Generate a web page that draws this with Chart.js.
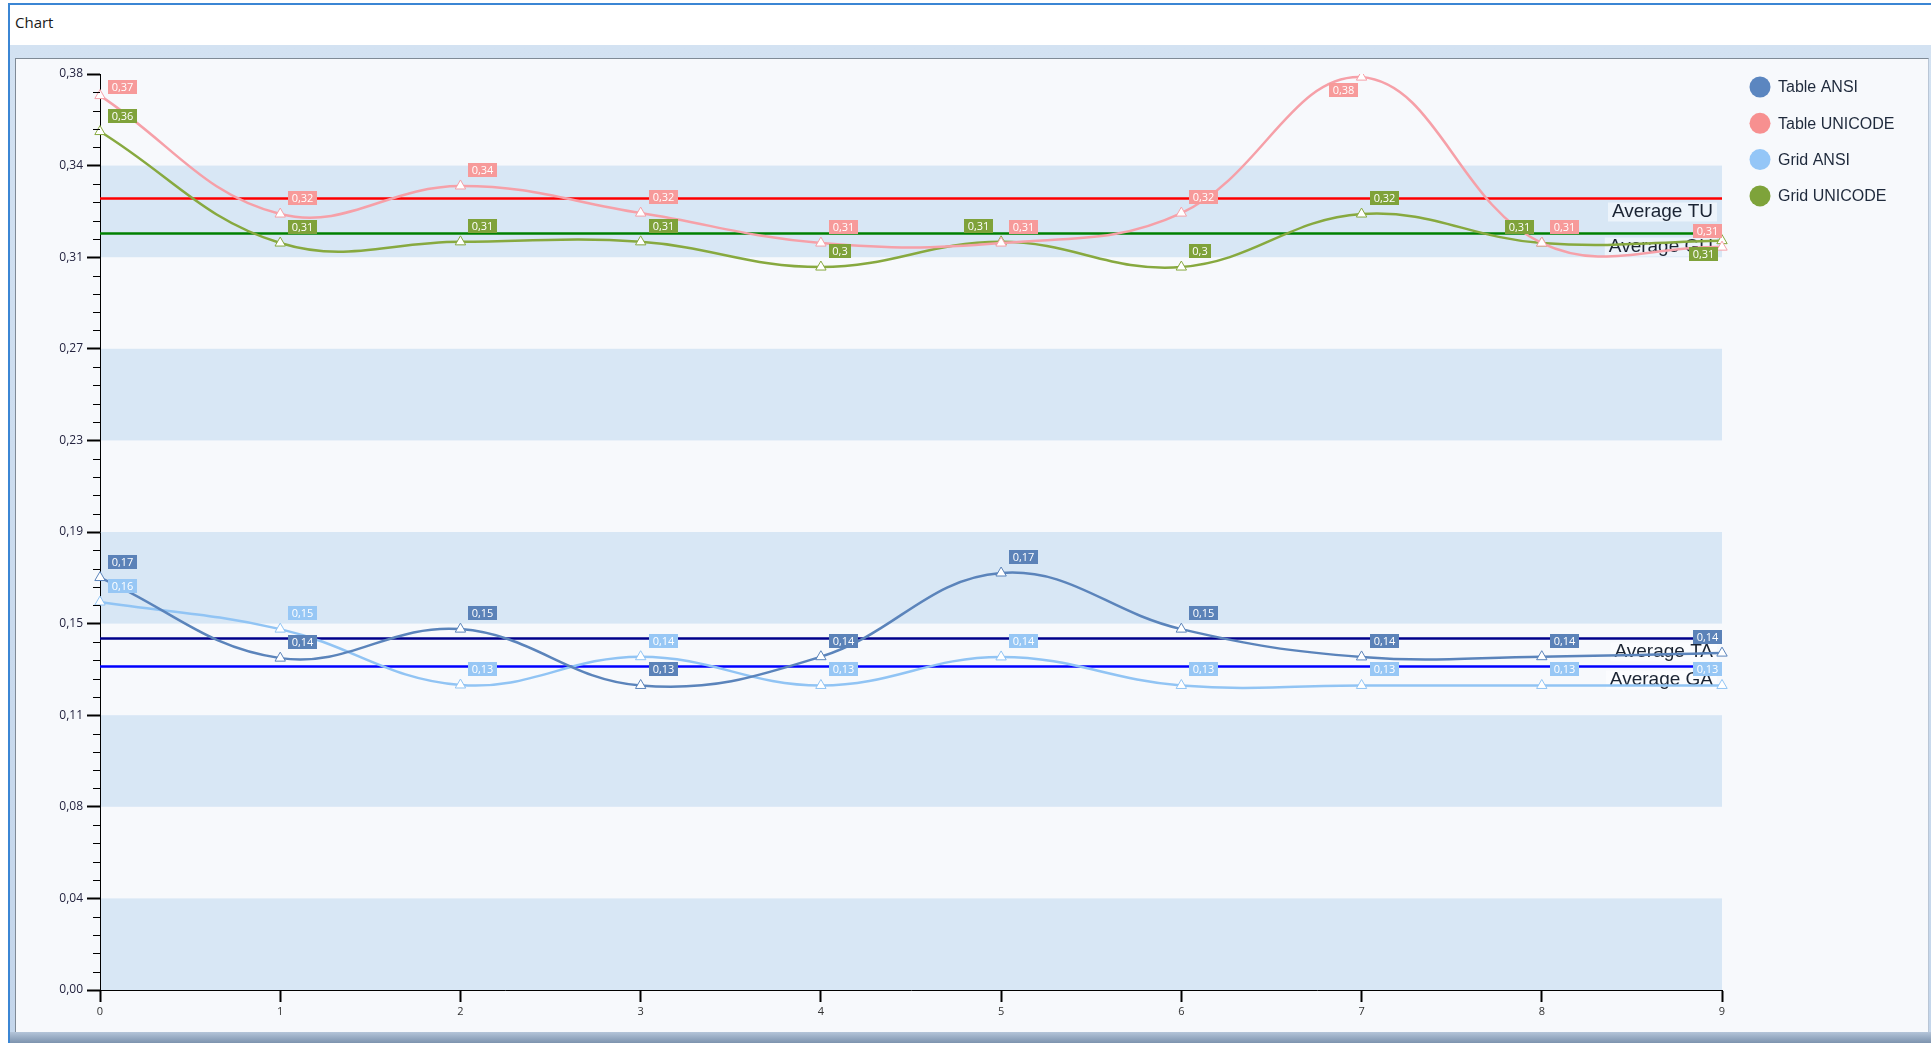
<!DOCTYPE html>
<html>
<head>
<meta charset="utf-8">
<title>Chart</title>
<script src="https://cdn.jsdelivr.net/npm/chart.js@4.4.1/dist/chart.umd.min.js"></script>
<style>
  html, body { margin: 0; padding: 0; background: #ffffff; width: 1931px; height: 1043px; overflow: hidden; }
  #frameTop { position: absolute; left: 8px; top: 3px; width: 1923px; height: 2px; background: #3b86d4; }
  #frameLeft { position: absolute; left: 8px; top: 3px; width: 2px; height: 1040px; background: #3b86d4; }
  #title { position: absolute; left: 15px; top: 12px; font: 15px "Open Sans", "Noto Sans", sans-serif; color: #1a1a1a; }
  #strip { position: absolute; left: 10px; top: 45px; width: 1921px; height: 998px; background: linear-gradient(#d3e2f2, #c4d6eb); }
  #bottomStrip { position: absolute; left: 10px; top: 1032px; width: 1921px; height: 11px; background: linear-gradient(#b4c5d9, #7d93ae); }
  #panel { position: absolute; left: 15px; top: 58px; width: 1914px; height: 974px; background: #f7f9fc; border-top: 1px solid #7f8a96; border-left: 1px solid #7f8a96; border-right: 1px solid #b9c6d6; box-sizing: border-box; }
  #c { position: absolute; left: 16px; top: 59px; }
</style>
</head>
<body>
<div id="strip"></div>
<div id="bottomStrip"></div>
<div id="frameTop"></div>
<div id="frameLeft"></div>
<div id="title">Chart</div>
<div id="panel"></div>
<canvas id="c" width="1897" height="973"></canvas>
<script>
// Run index on the x axis
const xLabels = ['0', '1', '2', '3', '4', '5', '6', '7', '8', '9'];

// Measured timings per run
const tableAnsi    = [0.172, 0.1384, 0.1505, 0.127, 0.139, 0.1739, 0.1505, 0.1389, 0.139, 0.1405];
const tableUnicode = [0.373, 0.3236, 0.3353, 0.324, 0.3115, 0.3115, 0.324, 0.3807, 0.3115, 0.3098];
const gridAnsi     = [0.1618, 0.1505, 0.1272, 0.139, 0.127, 0.1389, 0.127, 0.127, 0.127, 0.127];
const gridUnicode  = [0.358, 0.3115, 0.312, 0.312, 0.3015, 0.312, 0.3015, 0.3236, 0.3115, 0.3125];

const seriesNames = ['Table ANSI', 'Table UNICODE', 'Grid ANSI', 'Grid UNICODE'];
const averageNames = ['Average TA', 'Average TU', 'Average GA', 'Average GU'];

// Y axis: ten equal steps up to the top value
const yMax = 0.382;
const yTickLabels = ['0,00', '0,04', '0,08', '0,11', '0,15', '0,19', '0,23', '0,27', '0,31', '0,34', '0,38'];

const lineColors   = ['#5b84bb', '#f6a0a8', '#91c4f4', '#87a93f'];
const boxColors    = ['#5b82b8', '#f79a9a', '#97c7f5', '#7fa23a'];
const legendColors = ['#5b86c0', '#f79090', '#94c6f7', '#7ea33a'];
const averageColors = ['#00008b', '#ff0000', '#0000ff', '#008000'];
const bandColor = '#d8e7f5';

const seriesData = [tableAnsi, tableUnicode, gridAnsi, gridUnicode];

function fmt(v) {
  return String(Number(v.toFixed(2))).replace('.', ',');
}

// Alternating shaded bands between major y ticks
const bandsPlugin = {
  id: 'bands',
  beforeDraw(chart) {
    const { ctx, chartArea: a, scales: { y } } = chart;
    ctx.save();
    ctx.fillStyle = bandColor;
    const n = yTickLabels.length - 1;
    for (let i = 0; i < n; i += 2) {
      const top = y.getPixelForValue(yMax * (i + 1) / n);
      const bot = y.getPixelForValue(yMax * i / n);
      ctx.fillRect(a.left, top, a.right - a.left, bot - top);
    }
    ctx.restore();
  }
};

// Horizontal mean line for every series, with its caption
const averagePlugin = {
  id: 'averages',
  beforeDatasetsDraw(chart) {
    const { ctx, chartArea: a, scales: { y } } = chart;
    ctx.save();
    chart.data.datasets.forEach((ds, i) => {
      const mean = ds.data.reduce((s, v) => s + v, 0) / ds.data.length;
      const py = Math.round(y.getPixelForValue(mean)) + 0.5;
      ctx.font = '19px "Liberation Sans", Arial, sans-serif';
      const text = averageNames[i];
      const tw = ctx.measureText(text).width;
      const tx = a.right - 9;
      const ty = py + 13;
      ctx.fillStyle = 'rgba(255,255,255,0.55)';
      ctx.fillRect(tx - tw - 4, ty - 9, tw + 8, 19);
      ctx.fillStyle = '#1b2433';
      ctx.textAlign = 'right';
      ctx.textBaseline = 'middle';
      ctx.fillText(text, tx, ty);
      ctx.strokeStyle = averageColors[i];
      ctx.lineWidth = 2.5;
      ctx.beginPath();
      ctx.moveTo(a.left, py);
      ctx.lineTo(a.right, py);
      ctx.stroke();
    });
    ctx.restore();
  }
};

// Value tags next to each point, nudged aside when they would overlap
const valueTagPlugin = {
  id: 'valueTags',
  afterDatasetsDraw(chart) {
    const { ctx, chartArea: a } = chart;
    const placed = [];
    const h = 14;
    const topLimit = a.top + 6;
    ctx.save();
    ctx.font = '11px "Open Sans", "Noto Sans", sans-serif';
    ctx.textBaseline = 'middle';
    ctx.textAlign = 'center';
    const overlaps = (r) => placed.some(p => r.l < p.l + p.w && r.l + r.w > p.l && r.t < p.t + p.h && r.t + r.h > p.t);
    chart.data.datasets.forEach((ds, di) => {
      const meta = chart.getDatasetMeta(di);
      meta.data.forEach((pt, i) => {
        const text = fmt(ds.data[i]);
        const w = Math.round(ctx.measureText(text).width) + 7;
        const x = pt.x, y = pt.y;
        const clampX = (l) => Math.min(Math.max(l, a.left + 8), a.right - w);
        // above placements slide down to stay inside the plot, but not too far
        const above = (l) => {
          const t = y - 9 - h;
          return { l: l, t: t < topLimit ? topLimit : t, shift: t < topLimit ? topLimit - t : 0 };
        };
        const candidates = [
          above(clampX(x + 8)),
          above(x - 8 - w),
          { l: Math.min(x - 4, a.right - 2) - w, t: y + 6, shift: 0 },
          { l: clampX(x + 8), t: y + 6, shift: 0 }
        ].map(c => ({ l: c.l, t: c.t, w: w, h: h, shift: c.shift }));
        const box = candidates.find(c => c.shift <= 12 && c.l >= a.left && !overlaps(c)) || candidates[0];
        placed.push(box);
        ctx.fillStyle = boxColors[di];
        ctx.fillRect(Math.round(box.l), Math.round(box.t), w, h);
        ctx.fillStyle = '#ffffff';
        ctx.fillText(text, Math.round(box.l) + w / 2, Math.round(box.t) + h / 2 + 0.5);
      });
    });
    ctx.restore();
  }
};

// Minor y ticks and the legend on the right
const extrasPlugin = {
  id: 'extras',
  afterDraw(chart) {
    const { ctx, chartArea: a, scales: { y } } = chart;
    ctx.save();
    ctx.strokeStyle = '#000000';
    ctx.lineWidth = 1;
    const n = (yTickLabels.length - 1) * 5;
    for (let k = 0; k <= n; k++) {
      if (k % 5 === 0) continue;
      const py = Math.round(y.getPixelForValue(yMax * k / n)) + 0.5;
      ctx.beginPath();
      ctx.moveTo(a.left - 7, py);
      ctx.lineTo(a.left, py);
      ctx.stroke();
    }
    ctx.font = '16px "Liberation Sans", Arial, sans-serif';
    ctx.textBaseline = 'middle';
    ctx.textAlign = 'left';
    seriesNames.forEach((name, i) => {
      const cy = 28 + i * 36.3;
      ctx.fillStyle = legendColors[i];
      ctx.beginPath();
      ctx.arc(1744, cy, 10.5, 0, Math.PI * 2);
      ctx.fill();
      ctx.fillStyle = '#1f2a3c';
      ctx.fillText(name, 1762, cy + 1);
    });
    ctx.restore();
  }
};

const datasets = seriesNames.map((name, i) => ({
  label: name,
  data: seriesData[i],
  borderColor: lineColors[i],
  borderWidth: 2.5,
  tension: 0.4,
  fill: false,
  pointStyle: 'triangle',
  pointRadius: 6,
  pointBackgroundColor: '#ffffff',
  pointBorderColor: lineColors[i],
  pointBorderWidth: 1
}));

new Chart(document.getElementById('c'), {
  type: 'line',
  data: { labels: xLabels, datasets: datasets },
  options: {
    responsive: false,
    animation: false,
    devicePixelRatio: 1,
    layout: { padding: { left: 0, top: 15, right: 191, bottom: 0 } },
    plugins: { legend: { display: false }, tooltip: { enabled: false } },
    scales: {
      x: {
        type: 'category',
        offset: false,
        grid: { display: true, drawOnChartArea: false, drawTicks: true, tickLength: 12, tickColor: '#000000', tickWidth: 2, offset: false },
        border: { display: true, color: '#000000', width: 1 },
        ticks: { padding: 3, color: '#333333', font: { size: 11, family: '"Open Sans", "Noto Sans", sans-serif' }, maxRotation: 0, autoSkip: false },
        afterFit(s) { s.height = 42; }
      },
      y: {
        type: 'linear',
        min: 0,
        max: yMax,
        afterBuildTicks(s) {
          s.ticks = yTickLabels.map((_, i) => ({ value: yMax * i / (yTickLabels.length - 1) }));
        },
        grid: { display: true, drawOnChartArea: false, drawTicks: true, tickLength: 13, tickColor: '#000000', tickWidth: 2 },
        border: { display: true, color: '#000000', width: 1 },
        ticks: {
          padding: 4,
          color: '#23233f',
          font: { size: 12, family: '"Open Sans", "Noto Sans", sans-serif' },
          callback: (v, i) => yTickLabels[i]
        },
        afterFit(s) { s.width = 84; }
      }
    }
  },
  plugins: [bandsPlugin, averagePlugin, valueTagPlugin, extrasPlugin]
});
</script>
</body>
</html>
